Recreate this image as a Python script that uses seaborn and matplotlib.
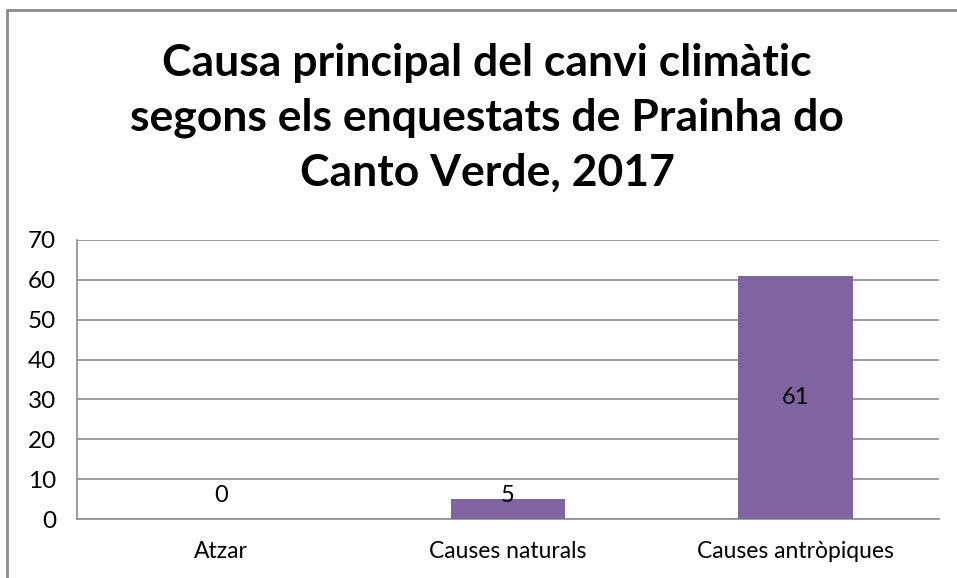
import matplotlib
matplotlib.use("Agg")
from matplotlib import pyplot as plt
from matplotlib.patches import Rectangle
import seaborn as sns
import pandas as pd

categories = ["Atzar", "Causes naturals", "Causes antròpiques"]
values = [0, 5, 61]
yticks = [0, 10, 20, 30, 40, 50, 60, 70]
title = "Causa principal del canvi climàtic\nsegons els enquestats de Prainha do\nCanto Verde, 2017"

sns.set_style("white")
plt.rcParams['font.family'] = ['Lato', 'DejaVu Sans']
plt.rcParams['text.color'] = 'black'
plt.rcParams['xtick.labelcolor'] = 'black'
plt.rcParams['ytick.labelcolor'] = 'black'

df = pd.DataFrame({"causa": categories, "n": values})

fig = plt.figure(figsize=(9.57, 5.78), dpi=100)
ax = fig.add_axes([77/957, 59/578, 862/957, 279/578])

sns.barplot(data=df, x="causa", y="n", color="#8064A2", width=0.4,
            saturation=1, linewidth=0, ax=ax, zorder=3)

ax.set_xlim(-0.5, len(categories) - 0.5)
ax.set_ylim(0, 70)
ax.set_yticks(yticks)
ax.grid(axis="y", color="#8c8c8c", linewidth=1.2, zorder=0)
ax.set_axisbelow(True)

for s in ["top", "right"]:
    ax.spines[s].set_visible(False)
for s in ["left", "bottom"]:
    ax.spines[s].set_color("#8c8c8c")
    ax.spines[s].set_linewidth(1.2)

ax.tick_params(axis="y", length=9, width=1.2, color="#8c8c8c", labelsize=17.5, pad=6)
ax.tick_params(axis="x", which="major", length=0, labelsize=16.5, pad=16)
ax.set_xticks([i - 0.5 for i in range(len(categories) + 1)], minor=True)
ax.tick_params(axis="x", which="minor", length=8, width=1.2, color="#8c8c8c")
ax.set_xlabel("")
ax.set_ylabel("")

for i, v in enumerate(values):
    ax.text(i, max(v / 2, 6), str(v), ha="center", va="center", fontsize=17, zorder=4)

fig.text(487/957, 1 - 118/578, title, ha="center", va="center",
         fontsize=32, fontweight="bold", linespacing=1.45)

fig.patches.append(Rectangle((7/957, -0.1), 1.2, 1.1 - 10/578, transform=fig.transFigure,
                             fill=False, edgecolor="#8c8c8c", linewidth=2))

fig.savefig("out.png", dpi=100)
